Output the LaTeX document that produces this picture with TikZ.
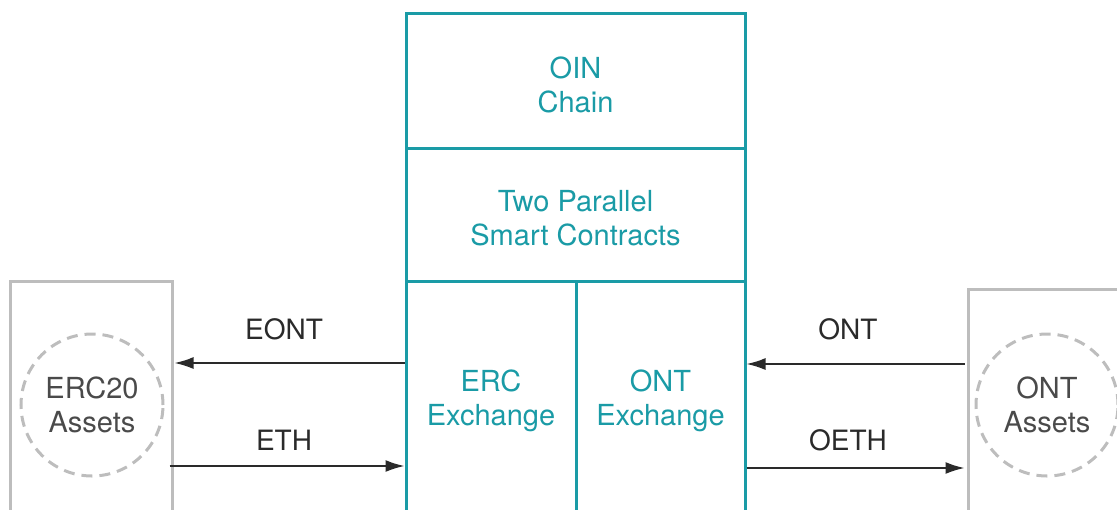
\documentclass[tikz,border=0pt]{standalone}
\usepackage{fontspec}
\setmainfont{TeX Gyre Heros}
\usepackage{tikz}
\usetikzlibrary{arrows.meta}
\usetikzlibrary{shapes.geometric}
\definecolor{chaincolor}{HTML}{1A9BA6}
\definecolor{assetgray}{HTML}{BDBDBD}
\definecolor{labelcolor}{HTML}{2A2A2A}

\begin{document}
\begin{tikzpicture}[x=1pt,y=-1pt,
  part/.style={draw=chaincolor,line width=3pt,text=chaincolor,align=center,
    inner sep=0pt,font=\fontsize{29}{34}\selectfont},
  parttext/.style={text=chaincolor,align=center,inner sep=0pt,font=\fontsize{29}{34}\selectfont},
  holder/.style={draw=assetgray,line width=3pt,minimum width=162pt,minimum height=250pt},
  asset/.style={circle,draw=assetgray,dashed,dash pattern=on 11pt off 7pt,line width=3pt,
    minimum size=142pt,align=center,text=labelcolor!85,font=\fontsize{29}{34}\selectfont},
  flow/.style={labelcolor,line width=1.8pt,-{Latex[length=19pt,width=12pt]}},
  tag/.style={text=labelcolor,font=\fontsize{28}{32}\selectfont}]
\useasboundingbox (0,0) rectangle (1117,509);
% the chain in the middle
\node[part,minimum width=339pt,minimum height=135pt] (chain) at (575.5,80.5) {};
\node[parttext] (chaintext) at ([yshift=-4pt]chain.center) {OIN\\Chain};
\node[part,minimum width=339pt,minimum height=133pt] (contracts) at (575.5,214.5) {};
\node[parttext] (contractstext) at ([yshift=-4pt]contracts.center) {Two Parallel\\Smart Contracts};
\node[part,minimum width=170pt,minimum height=240pt] (erc) at (491,401) {ERC\\Exchange};
\node[part,minimum width=169pt,minimum height=240pt] (ont) at (660.5,401) {ONT\\Exchange};
% assets on both sides
\node[holder] (ercbox) at (91,406) {};
\node[asset] (ercassets) at (92,405) {ERC20\\Assets};
\node[holder] (ontbox) at (1049,414) {};
\node[asset] (ontassets) at (1047,405) {ONT\\Assets};
% transfers
\coordinate (eont) at ([yshift=38pt]erc.west);
\coordinate (eth) at ([yshift=-65pt]erc.west);
\coordinate (ontin) at ([yshift=37pt]ont.east);
\coordinate (oeth) at ([yshift=-67pt]ont.east);
\draw[flow] (eont) -- ([xshift=1pt]eont -| ercbox.east);
\draw[flow] ([xshift=-4pt]eth -| ercbox.east) -- (eth);
\draw[flow] ([xshift=-2pt]ontin -| ontbox.west) -- (ontin);
\draw[flow] (oeth) -- ([xshift=-2pt]oeth -| ontbox.west);
\node[tag] (eontlabel) at (284,329) {EONT};
\node[tag] (ethlabel) at (284,440) {ETH};
\node[tag] (ontlabel) at (848,329) {ONT};
\node[tag] (oethlabel) at (848,440) {OETH};
\end{tikzpicture}
\end{document}
